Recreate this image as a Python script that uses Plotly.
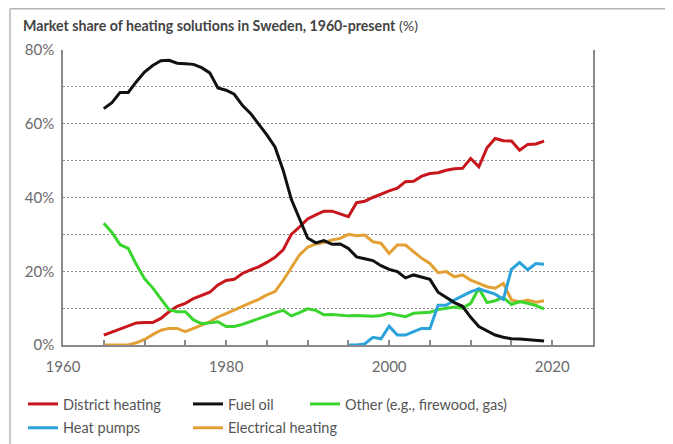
import plotly.graph_objects as go

years = list(range(1965, 2020))

district_heating = [2.7, 3.5, 4.3, 5.2, 6.0, 6.1, 6.1, 7.2, 9.0, 10.5,
                    11.3, 12.6, 13.5, 14.3, 16.3, 17.5, 17.8, 19.4, 20.4, 21.2,
                    22.4, 23.8, 25.8, 30.0, 32.0, 34.2, 35.3, 36.3, 36.3, 35.6,
                    34.8, 38.6, 39.0, 40.0, 41.0, 41.8, 42.5, 44.3, 44.4, 45.8,
                    46.5, 46.7, 47.4, 47.8, 47.9, 50.6, 48.3, 53.5, 56.0, 55.4,
                    55.3, 52.8, 54.4, 54.5, 55.3]

fuel_oil = [64.1, 65.7, 68.5, 68.5, 71.4, 74.0, 75.8, 77.1, 77.2, 76.4,
            76.3, 76.1, 75.2, 73.8, 69.7, 69.1, 68.0, 65.0, 62.8, 60.0,
            57.0, 53.7, 47.4, 39.5, 34.0, 29.0, 27.7, 28.3, 27.3, 27.4,
            26.2, 23.9, 23.4, 22.9, 21.5, 20.5, 19.9, 18.2, 19.0, 18.4,
            17.8, 14.3, 12.8, 11.5, 10.5, 7.5, 5.0, 3.8, 2.7, 2.1,
            1.7, 1.6, 1.5, 1.4, 1.1]

other = [33.0, 30.5, 27.2, 26.2, 21.8, 18.0, 15.5, 12.5, 9.6, 9.0,
         9.0, 6.8, 5.8, 6.0, 6.3, 5.0, 5.0, 5.6, 6.4, 7.2,
         8.1, 8.7, 9.4, 7.9, 8.8, 9.8, 9.4, 8.2, 8.3, 8.0,
         7.9, 8.0, 7.9, 7.8, 8.0, 8.6, 8.1, 7.7, 8.6, 8.8,
         8.9, 9.6, 9.9, 10.3, 10.0, 11.3, 15.4, 11.5, 12.0, 12.9,
         11.0, 11.8, 11.3, 10.7, 9.8]

hp_years = list(range(1995, 2020))
heat_pumps = [0.0, 0.0, 0.3, 2.1, 1.7, 5.1, 2.7, 2.7, 3.6, 4.5,
              4.5, 10.8, 10.8, 12.2, 13.3, 14.4, 15.2, 14.6, 13.8, 12.4,
              20.5, 22.4, 20.4, 22.1, 21.9]

electrical = [0.0, 0.0, 0.0, 0.0, 0.6, 1.5, 2.8, 4.0, 4.5, 4.5,
              3.6, 4.6, 5.4, 6.3, 7.6, 8.5, 9.5, 10.5, 11.3, 12.4,
              13.6, 14.5, 17.5, 21.0, 24.4, 26.5, 27.4, 27.8, 28.5, 28.9,
              30.0, 29.6, 29.8, 28.0, 27.6, 24.8, 27.1, 27.1, 25.3, 23.5,
              22.1, 19.6, 19.9, 18.5, 19.0, 17.6, 16.7, 15.8, 15.4, 16.7,
              12.2, 11.7, 12.2, 11.6, 12.0]

y_tickvals = [0, 10, 20, 30, 40, 50, 60, 70, 80]
y_ticktext = ["0%", "", "20%", "", "40%", "", "60%", "", "80%"]
x_tickvals = list(range(1960, 2026, 5))
x_ticktext = [str(v) if v % 20 == 0 else "" for v in x_tickvals]

FONT = "Lato"
GRAY = "#6b6b6b"
W, H = 673, 444
ML, MT, MR, MB = 55, 42, 88, 107
PW, PH = W - ML - MR, H - MT - MB

fig = go.Figure()

series = [
    ("District heating", years, district_heating, "#c8161d", "legend"),
    ("Fuel oil", years, fuel_oil, "#111111", "legend2"),
    ("Other (e.g., firewood, gas)", years, other, "#3ad52e", "legend3"),
    ("Heat pumps", hp_years, heat_pumps, "#2aa3da", "legend"),
    ("Electrical heating", years, electrical, "#e2a035", "legend2"),
]
draw_order = [0, 4, 2, 3, 1]
for i in draw_order:
    name, xs, ys, col, lg = series[i]
    fig.add_trace(go.Scatter(x=xs, y=ys, name=name, mode="lines",
                             line=dict(color=col, width=3),
                             legend=lg, legendrank=i, legendgroup=f"g{i}"))

legend_common = dict(orientation="v", xref="container", yref="container",
                     xanchor="left", yanchor="top", bgcolor="rgba(0,0,0,0)",
                     font=dict(family=FONT, size=14.5, color="#555555"),
                     tracegroupgap=2, itemclick=False)

def px_x(p):
    return (p - ML) / PW

def px_y(p):
    return (H - MB - p) / PH

fig.update_layout(
    width=W, height=H,
    margin=dict(l=ML, r=MR, t=MT, b=MB, autoexpand=False),
    paper_bgcolor="white", plot_bgcolor="white",
    font=dict(family=FONT, color=GRAY),
    title=dict(text="<b>Market share of heating solutions in Sweden, 1960-present</b> (%)",
               xref="container", yref="container", x=15/W, xanchor="left",
               y=1 - 18/H, yanchor="middle",
               font=dict(family=FONT, size=14.2, color="#444444")),
    legend=dict(x=15/W, y=1 - 380/H, **legend_common),
    legend2=dict(x=180/W, y=1 - 380/H, **legend_common),
    legend3=dict(x=297/W, y=1 - 380/H, **legend_common),
    xaxis=dict(range=[1960, 2025], tickvals=x_tickvals, ticktext=x_ticktext,
               showgrid=False, zeroline=False, showline=True, linecolor="#8a8a8a",
               linewidth=1.5, ticks="inside", ticklen=5, tickcolor="#8a8a8a",
               tickwidth=1.5, tickfont=dict(family=FONT, size=15, color=GRAY),
               ticklabelstandoff=7),
    yaxis=dict(range=[0, 80], tickvals=y_tickvals, ticktext=y_ticktext,
               showgrid=True, gridcolor="#8f8f8f", griddash="2px,2px", gridwidth=1.3,
               zeroline=False, showline=True, linecolor="#8a8a8a", linewidth=1.5,
               mirror=True, ticks="", tickfont=dict(family=FONT, size=15, color=GRAY),
               ticklabelstandoff=4),
    shapes=[
        dict(type="line", xref="paper", yref="paper",
             x0=px_x(2), x1=px_x(W + 5), y0=px_y(0.75), y1=px_y(0.75),
             line=dict(color="#b5b5b5", width=1.5)),
        dict(type="line", xref="paper", yref="paper",
             x0=px_x(2), x1=px_x(2), y0=px_y(0.75), y1=px_y(H + 5),
             line=dict(color="#b5b5b5", width=1.5)),
    ],
)

fig.write_html("out.html")
